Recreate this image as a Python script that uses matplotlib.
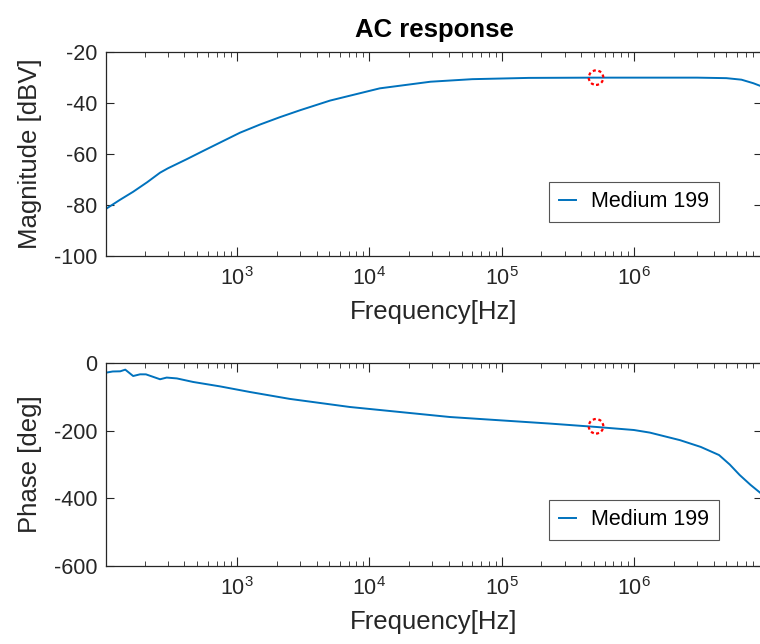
import numpy as np
import matplotlib.pyplot as plt

plt.rcParams['font.family'] = ['Liberation Sans', 'DejaVu Sans']
plt.rcParams['mathtext.fontset'] = 'custom'
plt.rcParams['mathtext.rm'] = 'Liberation Sans'
plt.rcParams['axes.unicode_minus'] = False

# magnitude curve
mag_f = [102.3, 130, 164, 210, 262, 300, 417, 553, 743, 1054, 1493, 2113, 2993,
         5050, 1.2e4, 2.9e4, 6e4, 1.6e5, 5e5, 1.5e6, 3e6, 5e6, 6.5e6, 8e6, 9.3e6]
mag_db = [-81.5, -78, -74.8, -71, -67.3, -65.6, -62.0, -58.8, -55.5, -51.6, -48.4,
          -45.5, -42.8, -39.0, -34.2, -31.6, -30.6, -30.1, -30.0, -30.0, -30.0,
          -30.2, -30.8, -32.2, -33.5]

# phase curve
ph_f = [102.3, 115, 131, 143, 164, 185, 205, 262, 294, 351, 466, 743, 1254,
        2500, 7140, 4.07e4, 2.32e5, 5.2e5, 1e6, 1.32e6, 2.23e6, 3.2e6, 4.4e6,
        5.3e6, 6.3e6, 7.6e6, 9.3e6]
ph_deg = [-28.5, -25, -24.5, -19.6, -38.4, -33.4, -33.5, -48, -43, -45.5, -56,
          -69, -85.7, -106, -130, -159.6, -179, -189, -198, -205.7, -228, -248,
          -272, -300, -331, -360, -388]

# highlighted point
mark_f = 5.17e5
mark_db = -30.0
mark_deg = -187

blue = '#0072BD'
axcol = '#262626'

fig = plt.figure(figsize=(7.6, 6.44), dpi=100)
ax1 = fig.add_axes([0.1395, 0.6025, 0.8632, 0.3165])
ax2 = fig.add_axes([0.1395, 0.1211, 0.8632, 0.3152])

for ax, f, y, my, lab, yl, yt, anc in [
        (ax1, mag_f, mag_db, mark_db, 'Magnitude [dBV]', (-100, -20),
         [-100, -80, -60, -40, -20], (0.934, 0.167)),
        (ax2, ph_f, ph_deg, mark_deg, 'Phase [deg]', (-600, 0),
         [-600, -400, -200, 0], (0.934, 0.128))]:
    ax.semilogx(f, y, color=blue, lw=1.4, label='Medium 199')
    ax.scatter([mark_f], [my], s=110, facecolors='none', edgecolors='red',
               linestyles=[(0, (1.4, 1.2))], linewidths=1.6, zorder=3)
    ax.set_xlim(102.3, 9.3e6)
    ax.set_ylim(yl)
    ax.set_yticks(yt)
    ax.set_xticks([1e3, 1e4, 1e5, 1e6])
    ax.set_xlabel('Frequency[Hz]', fontsize=18.5, color=axcol, labelpad=7)
    ax.set_ylabel(lab, fontsize=18.5, color=axcol, labelpad=9)
    ax.tick_params(which='both', direction='in', top=True, right=True,
                   colors=axcol, labelsize=15.5)
    ax.tick_params(which='major', length=6.5)
    ax.tick_params(which='minor', length=3.5)
    ax.tick_params(axis='x', which='major', pad=8)
    ax.tick_params(axis='y', length=6, pad=6)
    for s in ax.spines.values():
        s.set_color(axcol)
        s.set_linewidth(0.9)
    leg = ax.legend(loc='lower right', bbox_to_anchor=anc, fontsize=15.5,
                    fancybox=False, framealpha=1, edgecolor='#555555',
                    handlelength=0.8, handletextpad=0.7, borderpad=0.45,
                    borderaxespad=0)
    leg.get_frame().set_linewidth(0.8)

ax1.set_title('AC response', fontsize=18.5, fontweight='bold', pad=11)

fig.savefig('out.png', dpi=100)
